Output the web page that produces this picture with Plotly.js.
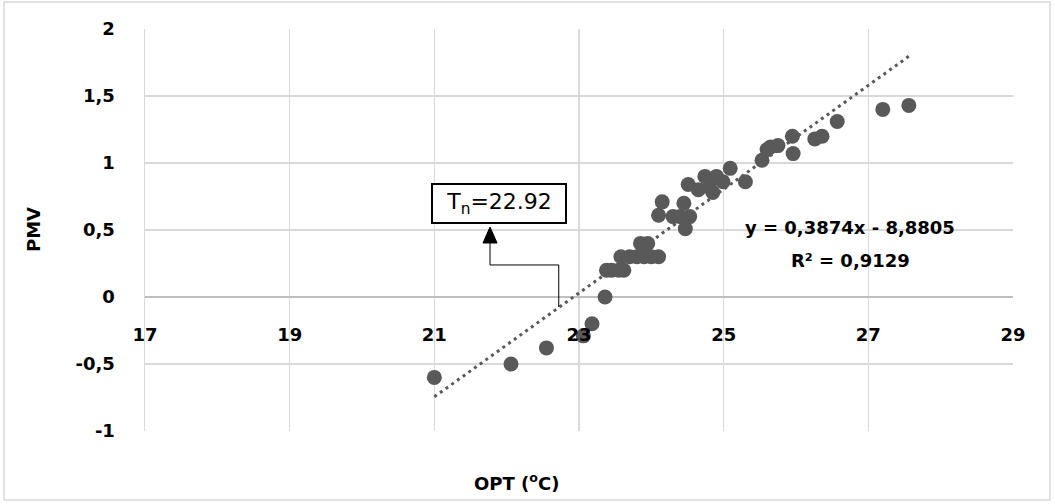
<!DOCTYPE html>
<html>
<head>
<meta charset="utf-8">
<script src="https://cdn.plot.ly/plotly-3.0.1.min.js"></script>
<style>html,body{margin:0;padding:0;background:#fff;}#chart{width:1055px;height:504px;}</style>
</head>
<body>
<div id="chart"></div>
<script>
// Data
const optTemp = [21.0, 22.06, 22.55, 23.06, 23.18, 23.36, 23.38, 23.45, 23.55, 23.62,
  23.58, 23.7, 23.8, 23.9, 24.0, 24.1, 23.85, 23.95, 24.1, 24.15, 24.3, 24.4, 24.53,
  24.47, 24.45, 24.51, 24.65, 24.74, 24.8, 24.85, 24.9, 24.99, 25.09, 25.3,
  25.53, 25.6, 25.65, 25.75, 25.95, 25.96, 26.26, 26.36, 26.57, 27.2, 27.56];
const pmv = [-0.6, -0.5, -0.38, -0.29, -0.2, 0.0, 0.2, 0.2, 0.2, 0.2,
  0.3, 0.3, 0.3, 0.3, 0.3, 0.3, 0.4, 0.4, 0.61, 0.71, 0.6, 0.6, 0.6,
  0.51, 0.7, 0.84, 0.8, 0.9, 0.82, 0.78, 0.9, 0.86, 0.96, 0.86,
  1.02, 1.1, 1.12, 1.13, 1.2, 1.07, 1.18, 1.2, 1.31, 1.4, 1.43];
const slope = 0.3874;
const intercept = -8.8805;
const rSquared = 0.9129;
const neutralTemp = 22.92;
const xTicks = [17, 19, 21, 23, 25, 27, 29];
const yTicks = [-1, -0.5, 0, 0.5, 1, 1.5, 2];

const xMin = Math.min(...optTemp), xMax = Math.max(...optTemp);
const trendX = [xMin, xMax];
const trendY = trendX.map(v => slope * v + intercept);
const fmt = (v) => String(Math.abs(v)).replace('.', ',');

const font = '"DejaVu Sans", sans-serif';

const data = [
  {x: optTemp, y: pmv, type: 'scatter', mode: 'markers',
   marker: {color: '#595959', size: 15}, showlegend: false, hoverinfo: 'x+y'},
  {x: trendX, y: trendY, type: 'scatter', mode: 'lines',
   line: {color: '#595959', width: 3, dash: '3px,4px'}, showlegend: false, hoverinfo: 'skip'}
];

const layout = {
  width: 1055, height: 504,
  margin: {l: 145, r: 42, t: 29, b: 73},
  paper_bgcolor: '#ffffff', plot_bgcolor: '#ffffff',
  separators: ', ',
  font: {family: font, color: '#000', size: 18},
  xaxis: {
    range: [17, 29], tickvals: xTicks, ticktext: xTicks.map(v => '<b>' + v + '</b>'),
    showgrid: true, gridcolor: '#d9d9d9', gridwidth: 1.5,
    zeroline: false, showline: false, ticks: '',
    anchor: 'free', position: 1/3, ticklabelstandoff: 25,
    tickfont: {family: font, size: 18, color: '#000'},
    fixedrange: true
  },
  yaxis: {
    range: [-1, 2], tickvals: yTicks,
    ticktext: yTicks.map(v => '<b>' + (v < 0 ? '-' : '') + fmt(v) + '</b>'),
    showgrid: true, gridcolor: '#d9d9d9', gridwidth: 1.5,
    zeroline: true, zerolinecolor: '#bfbfbf', zerolinewidth: 1.5,
    showline: true, linecolor: '#d9d9d9', linewidth: 1.5, ticks: '',
    ticklabelstandoff: 25,
    tickfont: {family: font, size: 18, color: '#000'},
    fixedrange: true
  },
  shapes: [
    {type: 'rect', xref: 'paper', yref: 'paper', x0: -0.1624, x1: 1.0426, y0: -0.1716, y1: 1.0672,
     line: {color: '#d9d9d9', width: 1.5}, fillcolor: 'rgba(0,0,0,0)', layer: 'below'},
    {type: 'path', xref: 'x', yref: 'y',
     path: 'M 22.72 -0.075 L 22.72 0.239 L 21.77 0.239 L 21.77 0.41',
     line: {color: '#000', width: 1}},
    {type: 'path', xref: 'x', yref: 'y',
     path: 'M 21.77 0.522 L 21.673 0.403 L 21.867 0.403 Z',
     line: {color: '#000', width: 1}, fillcolor: '#000'}
  ],
  annotations: [
    {xref: 'paper', yref: 'paper', x: -0.129, y: 0.5, xanchor: 'center', yanchor: 'middle',
     text: '<b>PMV</b>', textangle: -90,
     showarrow: false, font: {family: font, size: 18, color: '#000'}},
    {xref: 'paper', yref: 'paper', x: 0.428, y: -0.127, xanchor: 'center', yanchor: 'middle',
     text: '<b>OPT (<sup>o</sup>C)</b>',
     showarrow: false, font: {family: font, size: 18, color: '#000'}},
    {xref: 'x', yref: 'y', x: 26.75, y: 0.515, xanchor: 'center', yanchor: 'middle',
     text: '<b>y = ' + fmt(slope) + 'x - ' + fmt(intercept) + '</b>',
     showarrow: false, font: {family: font, size: 18, color: '#000'}},
    {xref: 'x', yref: 'y', x: 26.75, y: 0.276, xanchor: 'center', yanchor: 'middle',
     text: '<b>R² = ' + fmt(rSquared) + '</b>',
     showarrow: false, font: {family: font, size: 18, color: '#000'}},
    {xref: 'x', yref: 'y', x: 21.9, y: 0.7, xanchor: 'center', yanchor: 'middle',
     text: 'T<sub>n</sub>=' + neutralTemp.toFixed(2),
     showarrow: false, bordercolor: '#000', borderwidth: 2, borderpad: 3, bgcolor: '#fff',
     width: 126, height: 31,
     font: {family: font, size: 22, color: '#000'}}
  ]
};

Plotly.newPlot('chart', data, layout, {displayModeBar: false, staticPlot: true});
</script>
</body>
</html>
